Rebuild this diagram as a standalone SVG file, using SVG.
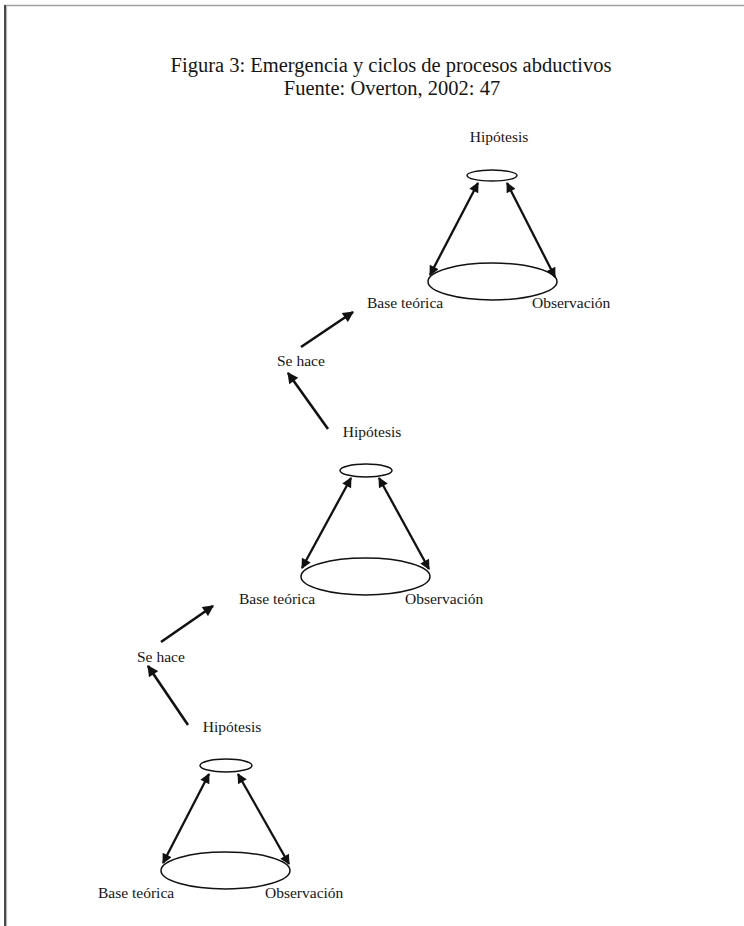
<svg xmlns="http://www.w3.org/2000/svg" width="744" height="926" viewBox="0 0 744 926">
  <style>
    text { font-family: "Liberation Serif", "Times New Roman", serif; fill: #151515; }
    .title { font-size: 20.5px; text-anchor: middle; }
    .lbl { font-size: 15.5px; }
    .mid { text-anchor: middle; }
    .node { fill: none; stroke: #111; stroke-width: 1.5; }
    .dbl { stroke: #111; stroke-width: 2.3; fill: none; marker-start: url(#head); marker-end: url(#head); }
    .step { stroke: #111; stroke-width: 2.6; fill: none; marker-end: url(#head2); }
  </style>
  <defs>
    <marker id="head" viewBox="0 0 10 10" refX="9" refY="5" markerWidth="12" markerHeight="10" markerUnits="userSpaceOnUse" orient="auto-start-reverse">
      <path d="M0,0 L10,5 L0,10 z" fill="#111"/>
    </marker>
    <marker id="head2" viewBox="0 0 10 10" refX="9" refY="5" markerWidth="13" markerHeight="11" markerUnits="userSpaceOnUse" orient="auto">
      <path d="M0,0 L10,5 L0,10 z" fill="#111"/>
    </marker>
  </defs>
  <rect width="744" height="926" fill="#fff"/>
  <g id="page-border">
    <line x1="4" y1="5.5" x2="744" y2="5.5" stroke="#a0a0a0" stroke-width="1.5"/>
    <line x1="5" y1="5" x2="5" y2="926" stroke="#4a4a4a" stroke-width="2"/>
    <line x1="6.6" y1="6" x2="6.6" y2="926" stroke="#b0b0b0" stroke-width="1"/>
  </g>
  <g id="title">
    <text class="title" x="391" y="72">Figura 3: Emergencia y ciclos de procesos abductivos</text>
    <text class="title" x="392" y="95">Fuente: Overton, 2002: 47</text>
  </g>

  <!-- Top cycle -->
  <g id="hyp-top">
    <ellipse class="node" cx="492" cy="175.5" rx="25" ry="5.5"/>
    <text class="lbl mid" x="499" y="142">Hipótesis</text>
  </g>
  <g id="base-top">
    <ellipse class="node" cx="492.5" cy="281.5" rx="64.5" ry="18.5"/>
    <text class="lbl" x="367" y="308">Base teórica</text>
    <text class="lbl" x="532" y="308">Observación</text>
  </g>

  <!-- Middle cycle -->
  <g id="hyp-mid">
    <ellipse class="node" cx="366" cy="470.5" rx="26" ry="6.5"/>
    <text class="lbl mid" x="372" y="437">Hipótesis</text>
  </g>
  <g id="base-mid">
    <ellipse class="node" cx="365.5" cy="576.5" rx="64.5" ry="18.5"/>
    <text class="lbl" x="239" y="604">Base teórica</text>
    <text class="lbl" x="405" y="604">Observación</text>
  </g>
  <g id="sehace-upper">
    <text class="lbl" x="277" y="366">Se hace</text>
  </g>

  <!-- Bottom cycle -->
  <g id="hyp-bot">
    <ellipse class="node" cx="226" cy="765.5" rx="26" ry="6.5"/>
    <text class="lbl mid" x="232" y="732">Hipótesis</text>
  </g>
  <g id="base-bot">
    <ellipse class="node" cx="225.5" cy="870.5" rx="64.5" ry="18.5"/>
    <text class="lbl" x="98" y="898">Base teórica</text>
    <text class="lbl" x="265" y="898">Observación</text>
  </g>
  <g id="sehace-lower">
    <text class="lbl" x="137" y="662">Se hace</text>
  </g>

  <g id="connectors">
    <line class="dbl" x1="478" y1="183" x2="430" y2="275"/>
    <line class="dbl" x1="507" y1="183" x2="555" y2="277"/>
    <line class="dbl" x1="351" y1="478" x2="302" y2="568"/>
    <line class="dbl" x1="379" y1="478" x2="429" y2="569"/>
    <line class="dbl" x1="209" y1="774" x2="163" y2="863"/>
    <line class="dbl" x1="238" y1="774" x2="289" y2="864"/>
    <line class="step" x1="301" y1="347" x2="353" y2="312"/>
    <line class="step" x1="328" y1="429" x2="288" y2="373"/>
    <line class="step" x1="161" y1="642" x2="213" y2="606"/>
    <line class="step" x1="188" y1="725" x2="148" y2="666"/>
  </g>
</svg>
